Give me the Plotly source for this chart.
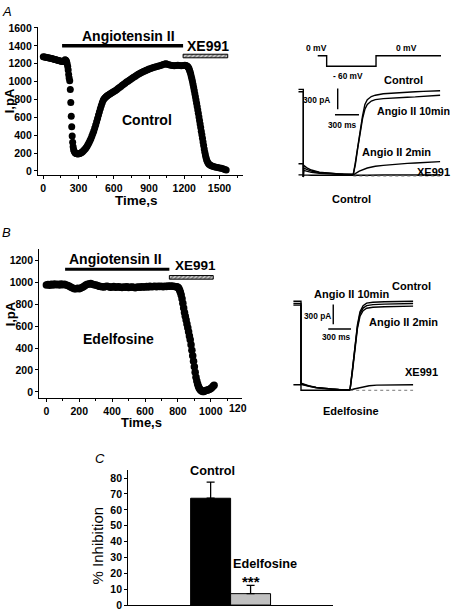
import plotly.graph_objects as go

W, H = 452, 615
FONT = "Arial, Liberation Sans, Helvetica, sans-serif"

# ---------------- Panel A : Control time course ----------------
tA = [0, 10, 20, 30, 40, 50, 60, 70, 80, 90, 100, 110, 120, 130, 140, 150, 160, 170, 178, 185,
      192, 198, 203, 208, 212, 216, 220, 225, 230, 234, 238, 242, 246, 250, 254, 258, 263, 270,
      278, 286, 294, 302, 310, 318, 326, 334, 342, 350, 358, 366, 374, 382, 390, 398, 406, 414,
      422, 430, 438, 446, 454, 462, 470, 478, 486, 494, 502, 510, 518, 526, 534, 542, 550, 560,
      570, 580, 590, 600, 612, 624, 636, 648, 660, 672, 684, 696, 708, 720, 732, 744, 756, 768,
      780, 792, 804, 816, 828, 840, 852, 864, 876, 888, 900, 915, 930, 945, 960, 975, 990, 1005,
      1020, 1035, 1045, 1055, 1070, 1085, 1100, 1115, 1130, 1145, 1160, 1175, 1190, 1205, 1215,
      1222, 1229, 1235, 1240, 1245, 1250, 1255, 1260, 1265, 1270, 1275, 1280, 1285, 1290, 1295,
      1300, 1305, 1310, 1315, 1320, 1325, 1330, 1335, 1340, 1345, 1350, 1355, 1360, 1365, 1370,
      1375, 1380, 1385, 1390, 1396, 1403, 1410, 1420, 1430, 1442, 1455, 1470, 1485, 1500, 1515,
      1530, 1545, 1557]
iA = [1278, 1275, 1272, 1270, 1268, 1265, 1262, 1258, 1255, 1250, 1248, 1245, 1240, 1236, 1232,
      1228, 1226, 1225, 1230, 1245, 1240, 1225, 1200, 1170, 1130, 1080, 1040, 1010, 912, 766,
      612, 494, 392, 320, 270, 240, 220, 205, 196, 192, 190, 192, 196, 202, 208, 216, 226, 238,
      250, 264, 280, 298, 318, 340, 364, 390, 418, 448, 480, 514, 550, 588, 625, 662, 698, 732,
      764, 790, 808, 820, 830, 840, 848, 856, 864, 872, 880, 888, 898, 910, 922, 934, 946, 958,
      970, 982, 994, 1005, 1016, 1027, 1038, 1048, 1058, 1068, 1078, 1087, 1096, 1104, 1112,
      1119, 1126, 1133, 1140, 1147, 1154, 1160, 1166, 1172, 1178, 1184, 1190, 1196, 1200, 1194,
      1188, 1184, 1180, 1178, 1180, 1183, 1181, 1177, 1180, 1182, 1180, 1175, 1168, 1158, 1145,
      1128, 1108, 1085, 1058, 1030, 1000, 968, 935, 900, 865, 830, 795, 758, 720, 682, 645, 605,
      565, 525, 485, 445, 405, 365, 325, 285, 245, 210, 178, 150, 125, 105, 88, 76, 66, 58, 52,
      46, 42, 38, 34, 30, 24, 16, 10]
angA = [160, 1190]      # Angiotensin II application, s
angA_level = 1400
xeA = [1190, 1570]      # XE991 application, s
xeA_level = 1286
xA_ticks = [0, 300, 600, 900, 1200, 1500]
yA_ticks = [0, 200, 400, 600, 800, 1000, 1200, 1400, 1600]

# Panel A inset: current traces (ms, pA)
insA_t = [-60, 0, 0, 5, 40, 100, 200, 300, 400, 500, 625, 650, 680, 710, 740, 770, 800, 850,
          900, 1000, 1100, 1200, 1300, 1400, 1500, 1600, 1710]
insA_ctrl = [1250, 1250, -25, 145, 110, 75, 45, 30, 22, 18, 15, 180, 420, 650, 860, 1030, 1100,
             1145, 1165, 1185, 1195, 1203, 1210, 1215, 1220, 1225, 1230]
insA_10 = [1215, 1215, -25, 105, 85, 60, 40, 28, 20, 15, 12, 150, 390, 620, 820, 960, 1030,
           1080, 1100, 1115, 1125, 1130, 1135, 1140, 1150, 1155, 1165]
insA_2_t = [-60, 0, 0, 5, 50, 100, 200, 300, 400, 500, 625, 700, 800, 900, 1000, 1100, 1200,
            1300, 1400, 1500, 1600, 1710]
insA_2 = [166, 166, -25, 70, 55, 42, 28, 18, 12, 8, 5, 60, 105, 130, 143, 155, 165, 172, 178,
          184, 190, 198]
insA_xe_t = [-60, 0, 0, 8, 100, 300, 625, 800, 1000, 1710]
insA_xe = [5, 5, -25, 5, 0, -3, -3, 0, 2, 2]
insA_base_t = [625, 1710]
insA_base = [-12, -12]
protA_t = [180, 292, 292, 909, 909, 1721]
protA_mv = [0, 0, -60, -60, 0, 0]
barA_pA = [962, 1262]; barA_pA_t = 430        # 300 pA scale bar
barA_ms = [396, 696]; barA_ms_level = 881      # 300 ms scale bar

# ---------------- Panel B : Edelfosine time course ----------------
tB = [0, 10, 20, 30, 40, 50, 60, 70, 80, 90, 100, 110, 120, 130, 140, 150, 160, 170, 180, 190,
      200, 210, 220, 230, 240, 250, 260, 270, 280, 290, 300, 310, 320, 330, 340, 350, 360, 370,
      380, 390, 400, 410, 420, 430, 440, 450, 460, 470, 480, 490, 500, 510, 520, 530, 540, 550,
      560, 570, 580, 590, 600, 610, 620, 630, 640, 650, 660, 670, 680, 690, 700, 710, 720, 730,
      740, 750, 760, 770, 780, 790, 795, 800, 805, 810, 815, 820, 825, 830, 835, 840, 845, 850,
      855, 860, 865, 870, 875, 880, 885, 890, 895, 900, 905, 910, 915, 920, 925, 930, 936, 942,
      950, 958, 966, 974, 982, 990, 998, 1006, 1014, 1020]
iB = [975, 980, 972, 982, 975, 985, 978, 982, 975, 985, 978, 982, 975, 970, 965, 955, 948, 942,
      940, 945, 942, 948, 955, 965, 975, 982, 985, 988, 982, 978, 975, 970, 965, 962, 960, 958,
      962, 965, 960, 955, 958, 962, 955, 958, 960, 955, 952, 958, 955, 960, 952, 955, 958, 955,
      950, 955, 958, 955, 960, 956, 958, 962, 958, 963, 960, 962, 965, 960, 964, 962, 965, 960,
      964, 962, 966, 964, 966, 964, 962, 960, 958, 955, 945, 930, 910, 885, 850, 810, 765, 725,
      690, 655, 620, 585, 548, 510, 475, 430, 380, 330, 280, 230, 180, 135, 100, 72, 50, 34, 20,
      10, 5, 5, 10, 15, 18, 22, 28, 38, 52, 62]
angB = [114, 748]
angB_level = 1119
xeB = [748, 1015]
xeB_level = 1045
xB_ticks = [0, 200, 400, 600, 800, 1000]
yB_ticks = [0, 200, 400, 600, 800, 1000, 1200]

# Panel B inset: current traces (ms, pA)
insB_t = [-100, 0, 0, 50, 100, 200, 300, 400, 500, 647, 680, 713, 745, 779, 820, 867, 950,
          1100, 1300, 1480]
insB_ctrl = [1360, 1360, 110, 90, 70, 45, 30, 20, 12, 5, 320, 684, 1000, 1200, 1290, 1330,
             1345, 1352, 1356, 1360]
insB_10 = [1325, 1325, 100, 82, 64, 42, 28, 18, 10, 4, 300, 660, 970, 1170, 1255, 1292, 1308,
           1316, 1321, 1325]
insB_2 = [1300, 1300, 90, 75, 58, 38, 25, 16, 9, 3, 290, 640, 940, 1130, 1215, 1252, 1268,
          1276, 1281, 1285]
insB_xe_t = [-100, 0, 0, 100, 300, 647, 700, 800, 900, 1000, 1200, 1480]
insB_xe = [84, 84, 0, 0, 0, 0, 20, 50, 70, 78, 82, 84]
insB_base_t = [650, 1480]
insB_base = [0, 0]
barB_pA = [1010, 1310]; barB_pA_t = 426
barB_ms = [360, 660]; barB_ms_level = 935

# ---------------- Panel C : % inhibition ----------------
groupsC = ["Control", "Edelfosine"]
posC = [0, 1]
inhibC = [67.3, 7.2]
semC = [10.1, 5.2]
colorsC = ["#000000", "#c0c0c0"]
yC_ticks = [0, 10, 20, 30, 40, 50, 60, 70, 80]


def fx(p):
    return p / W


def fy(p):
    return 1 - p / H


fig = go.Figure()

hatch = dict(color="#9a9a9a", line=dict(color="black", width=1),
             pattern=dict(shape="/", fgcolor="#222222", bgcolor="#cfcfcf", size=3,
                          solidity=0.5))

# Panel A
fig.add_trace(go.Scatter(x=tA, y=iA, mode="markers", marker=dict(color="black", size=7),
                         xaxis="x", yaxis="y"))
fig.add_trace(go.Scatter(x=angA, y=[angA_level] * 2, mode="lines",
                         line=dict(color="black", width=3.5), xaxis="x", yaxis="y"))
fig.add_trace(go.Bar(y=[xeA_level], x=[xeA[1] - xeA[0]], base=[xeA[0]], orientation="h",
                     width=[40], marker=hatch, xaxis="x", yaxis="y"))

# Panel A inset
lk = dict(color="black", width=1.4)
for xs, ys in [(insA_t, insA_ctrl), (insA_t, insA_10), (insA_2_t, insA_2), (insA_xe_t, insA_xe)]:
    fig.add_trace(go.Scatter(x=xs, y=ys, mode="lines", line=lk, xaxis="x2", yaxis="y2"))
fig.add_trace(go.Scatter(x=insA_base_t, y=insA_base, mode="lines",
                         line=dict(color="#777777", width=1, dash="dot"), xaxis="x2", yaxis="y2"))
fig.add_trace(go.Scatter(x=[barA_pA_t] * 2, y=barA_pA, mode="lines", line=lk,
                         xaxis="x2", yaxis="y2"))
fig.add_trace(go.Scatter(x=barA_ms, y=[barA_ms_level] * 2, mode="lines", line=lk,
                         xaxis="x2", yaxis="y2"))
fig.add_trace(go.Scatter(x=protA_t, y=protA_mv, mode="lines", line=lk, xaxis="x2", yaxis="y3"))

# Panel B
fig.add_trace(go.Scatter(x=tB, y=iB, mode="markers", marker=dict(color="black", size=7.5),
                         xaxis="x4", yaxis="y4"))
fig.add_trace(go.Scatter(x=angB, y=[angB_level] * 2, mode="lines",
                         line=dict(color="black", width=3.2), xaxis="x4", yaxis="y4"))
fig.add_trace(go.Bar(y=[xeB_level], x=[xeB[1] - xeB[0]], base=[xeB[0]], orientation="h",
                     width=[33], marker=hatch, xaxis="x4", yaxis="y4"))

# Panel B inset
for xs, ys in [(insB_t, insB_ctrl), (insB_t, insB_10), (insB_t, insB_2), (insB_xe_t, insB_xe)]:
    fig.add_trace(go.Scatter(x=xs, y=ys, mode="lines", line=lk, xaxis="x5", yaxis="y5"))
fig.add_trace(go.Scatter(x=insB_base_t, y=insB_base, mode="lines",
                         line=dict(color="#777777", width=1, dash="dot"), xaxis="x5", yaxis="y5"))
fig.add_trace(go.Scatter(x=[barB_pA_t] * 2, y=barB_pA, mode="lines", line=lk,
                         xaxis="x5", yaxis="y5"))
fig.add_trace(go.Scatter(x=barB_ms, y=[barB_ms_level] * 2, mode="lines", line=lk,
                         xaxis="x5", yaxis="y5"))

# Panel C
fig.add_trace(go.Bar(x=posC, y=inhibC, width=[1, 1],
                     marker=dict(color=colorsC, line=dict(color="black", width=1)),
                     error_y=dict(type="data", symmetric=False, array=semC, arrayminus=[0, 0],
                                  color="black", thickness=1.3, width=4),
                     xaxis="x6", yaxis="y6"))

tickfont = dict(family=FONT, size=10.5, color="black", weight="bold")
axis_common = dict(showline=True, linecolor="black", linewidth=1.3, showgrid=False,
                   zeroline=False, ticks="outside", tickcolor="black", tickwidth=1.2,
                   tickfont=tickfont, mirror=False, fixedrange=True)
hidden = dict(visible=False, showgrid=False, zeroline=False, fixedrange=True)

layout = dict(
    width=W, height=H, margin=dict(l=0, r=0, t=0, b=0),
    paper_bgcolor="white", plot_bgcolor="white", showlegend=False,
    font=dict(family=FONT, color="black"),
    xaxis=dict(axis_common, domain=[fx(38), fx(243)], range=[-45, 1700], anchor="y",
               tickvals=xA_ticks, ticklen=3,
               minor=dict(dtick=150, tick0=0, ticks="outside", ticklen=2, tickcolor="black")),
    yaxis=dict(axis_common, domain=[fy(173), fy(22)], range=[-44, 1615], anchor="x",
               tickvals=yA_ticks, ticklen=3),
    xaxis2=dict(hidden, domain=[fx(295.3), fx(441.3)], range=[-100, 1725], anchor="y2"),
    yaxis2=dict(hidden, domain=[fy(176.1), fy(81.7)], range=[-40, 1310], anchor="x2"),
    yaxis3=dict(hidden, domain=[fy(68), fy(46)], range=[-92, 32], anchor="x2"),
    xaxis4=dict(axis_common, domain=[fx(39.3), fx(241.7)], range=[-43, 1188], anchor="y4",
                tickvals=xB_ticks, ticklen=3,
                minor=dict(dtick=100, tick0=0, ticks="outside", ticklen=2, tickcolor="black")),
    yaxis4=dict(axis_common, domain=[fy(400), fy(248.3)], range=[-54, 1305], anchor="x4",
                tickvals=yB_ticks, ticklen=3),
    xaxis5=dict(hidden, domain=[fx(291.9), fx(414.6)], range=[-120, 1500], anchor="y5"),
    yaxis5=dict(hidden, domain=[fy(396.3), fy(295.6)], range=[-60, 1450], anchor="x5"),
    xaxis6=dict(showline=True, linecolor="black", linewidth=1.3, showgrid=False, zeroline=False,
                domain=[fx(128.3), fx(333.3)], range=[-2.06, 3.07], anchor="y6",
                tickvals=[3.06], ticktext=[""], ticks="inside", ticklen=4, tickcolor="black",
                fixedrange=True),
    yaxis6=dict(axis_common, domain=[fy(611), fy(473.3)], range=[0, 85.2], anchor="x6",
                tickvals=yC_ticks, ticklen=3),
)
fig.update_layout(**layout)


def txt(x, y, s, size, bold=True, italic=False, angle=0, xanchor="center"):
    return dict(x=fx(x), y=fy(y), xref="paper", yref="paper", text=s, showarrow=False,
                font=dict(family=FONT, size=size, color="black",
                          weight="bold" if bold else "normal",
                          style="italic" if italic else "normal"),
                textangle=angle, xanchor=xanchor, yanchor="middle", borderpad=0)


ann = [
    # Panel A
    txt(7, 7, "A", 13, bold=False, italic=True),
    txt(128, 32, "Angiotensin II", 14),
    txt(208, 42, "XE991", 14),
    txt(147, 117, "Control", 14),
    txt(9, 98, "I,pA", 13, angle=-90),
    txt(136, 199, "Time,s", 13.5),
    # Panel A inset
    txt(316.7, 43.3, "0 mV", 8.5),
    txt(406.7, 43.3, "0 mV", 8.5),
    txt(348.3, 72.7, "- 60 mV", 8.3),
    txt(403.3, 76, "Control", 11),
    txt(316.7, 96.7, "300 pA", 8.3),
    txt(451, 108.3, "Angio II 10min", 10.7, xanchor="right"),
    txt(342.7, 122.3, "300 ms", 8.3),
    txt(396.7, 150, "Angio II 2min", 11),
    txt(451, 170, "XE991", 11, xanchor="right"),
    txt(351, 197.3, "Control", 11),
    # Panel B
    txt(6, 231.7, "B", 13, bold=False, italic=True),
    txt(115, 258.3, "Angiotensin II", 14),
    txt(195, 265, "XE991", 13.5),
    txt(118, 340, "Edelfosine", 14),
    txt(10, 315, "I,pA", 13, angle=-90),
    txt(141.7, 425.5, "Time,s", 13),
    txt(238.3, 410, "120", 10.5),
    # Panel B inset
    txt(351.7, 294, "Angio II 10min", 11),
    txt(411, 286, "Control", 11),
    txt(317.3, 316.7, "300 pA", 8.3),
    txt(403.3, 322.3, "Angio II 2min", 11),
    txt(336.7, 338.3, "300 ms", 8.3),
    txt(421.7, 374, "XE991", 11),
    txt(351, 413.3, "Edelfosine", 11),
    # Panel C
    txt(100, 461.7, "C", 13, bold=False, italic=True),
    txt(212.3, 474.3, "Control", 12.7),
    txt(265, 569, "Edelfosine", 12.7),
    txt(250.7, 587, "***", 15),
    txt(97.3, 550, "% Inhibition", 15, bold=False, angle=-90),
]
fig.update_layout(annotations=ann)

fig.write_html("out.html", config={"displayModeBar": False},
               post_script="document.body.style.margin='0';"
                           "document.documentElement.style.overflow='hidden';")
